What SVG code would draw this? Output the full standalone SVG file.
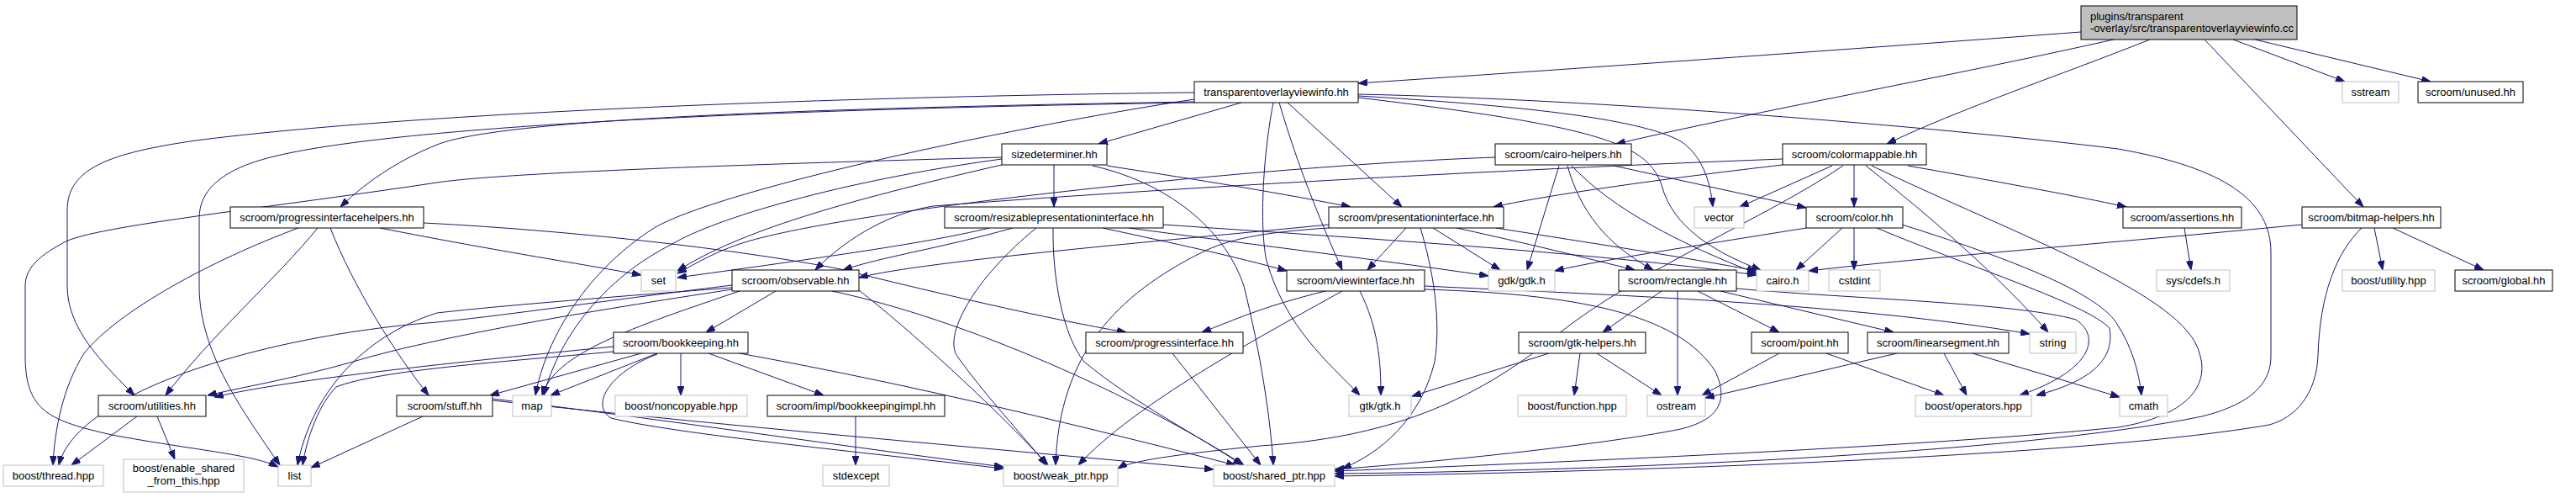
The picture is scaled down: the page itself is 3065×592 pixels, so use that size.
<svg xmlns="http://www.w3.org/2000/svg" width="3065" height="592" viewBox="0 0 3065 592">
<defs>
<style>
.n rect{fill:#fff;stroke:#000;stroke-width:1}
.x rect{fill:#fff;stroke:#bfbfbf;stroke-width:1}
.r rect{fill:#bfbfbf;stroke:#000;stroke-width:1}
text{font-family:"Liberation Sans",Arial,sans-serif;font-size:13px;fill:#000;text-anchor:middle}
#edges path{fill:none;stroke:#191970;stroke-width:1;marker-end:url(#a)}
</style>
<marker id="a" viewBox="0 0 11 8" refX="11" refY="4" markerWidth="11" markerHeight="8" markerUnits="userSpaceOnUse" orient="auto"><path d="M0,0L11,4L0,8z" fill="#191970" stroke="#191970" stroke-width="1"/></marker>
</defs>
<rect width="3065" height="592" fill="#fff"/>
<g id="edges">
<path d="M2476,38 C2250,55 1900,80 1616,99"/>
<path d="M2515,47 C2300,95 2100,130 1923,171"/>
<path d="M2558,47 C2450,90 2330,130 2245,171"/>
<path d="M2657,47 L2790,97"/>
<path d="M2683,47 L2892,97"/>
<path d="M2623,47 L2812,246"/>
<path d="M1477,122 L1307,171"/>
<path d="M1421,121 C1000,128 600,140 520,172 C480,188 440,212 405,246"/>
<path d="M1421,110 C1000,115 500,133 233,167 C130,182 80,200 80,250 L80,340 C80,390 120,430 160,470"/>
<path d="M1421,122 C900,130 480,150 330,185 C265,200 237,225 237,260 L237,340 C237,420 290,490 333,553"/>
<path d="M1421,118 C1150,160 850,230 780,270 C700,320 650,400 637,470"/>
<path d="M1532,122 L1668,246"/>
<path d="M1522,122 C1545,200 1570,260 1597,321"/>
<path d="M1515,122 C1500,200 1500,280 1507,310 C1530,390 1580,430 1618,470"/>
<path d="M1616,112 C1900,118 2300,150 2520,177 C2650,200 2702,240 2702,300 L2702,423 C2702,455 2680,480 2620,495 C2400,540 1900,560 1588,563"/>
<path d="M1616,114 C1800,125 1950,140 2000,168 C2025,185 2035,215 2038,246"/>
<path d="M1616,116 C1900,150 1960,170 1977,220 C1990,270 2040,300 2095,321"/>
<path d="M1254,196 L1254,246"/>
<path d="M1317,197 C1400,210 1500,225 1607,246"/>
<path d="M1192,187 C900,195 600,205 520,217 C300,250 100,270 73,290 C45,305 30,320 30,340 L30,423 C30,490 60,500 133,517 C230,535 300,540 331,555"/>
<path d="M1192,189 C1000,215 850,260 800,290 C720,330 665,400 647,470"/>
<path d="M1192,196 C1000,240 880,275 806,322"/>
<path d="M1300,197 C1400,220 1460,280 1480,340 C1500,420 1512,500 1515,553"/>
<path d="M1779,187 C1500,197 1000,250 880,290 C850,300 830,312 806,325"/>
<path d="M1855,197 L1817,321"/>
<path d="M1865,197 C1880,250 1910,290 1967,321"/>
<path d="M1870,197 C1920,250 2000,290 2090,325"/>
<path d="M1920,197 L2149,247"/>
<path d="M2121,196 C2000,210 1850,230 1777,246"/>
<path d="M2121,189 C1700,205 1300,230 1110,245 C1050,255 1000,290 970,321"/>
<path d="M2180,197 L2070,246"/>
<path d="M2206,196 L2206,246"/>
<path d="M2220,197 C2300,260 2380,330 2437,395"/>
<path d="M2227,197 C2400,280 2600,350 2617,420 C2630,460 2600,495 2520,508 C2300,530 1900,548 1588,560"/>
<path d="M2270,197 C2400,220 2480,235 2530,246"/>
<path d="M2193,197 C2100,260 1950,320 1850,400 C1750,480 1650,520 1500,530 C1400,540 1345,548 1330,557"/>
<path d="M355,271 C250,310 140,370 100,420 C75,460 65,510 63,553"/>
<path d="M378,271 C330,330 250,400 197,470"/>
<path d="M393,271 C420,340 470,420 510,470"/>
<path d="M452,271 C600,300 700,315 763,327"/>
<path d="M504,265 C700,275 900,300 1000,320 C1100,345 1250,380 1340,395"/>
<path d="M1177,271 C1100,290 950,310 806,330"/>
<path d="M1205,271 C1120,295 1050,305 1003,321"/>
<path d="M1233,271 C1160,330 1120,400 1140,425 C1180,480 1220,520 1245,553"/>
<path d="M1253,271 C1252,330 1265,400 1290,430 C1350,480 1430,520 1478,553"/>
<path d="M1312,271 C1400,290 1470,305 1531,322"/>
<path d="M1343,271 C1500,292 1650,310 1771,328"/>
<path d="M1384,267 C1600,282 1900,300 2090,327"/>
<path d="M1673,271 L1627,321"/>
<path d="M1690,271 C1705,320 1715,380 1707,430 C1690,500 1640,540 1597,557"/>
<path d="M1705,271 L1785,321"/>
<path d="M1733,271 C1820,290 1880,305 1945,321"/>
<path d="M1780,271 C1900,290 2000,305 2090,322"/>
<path d="M1581,267 C1400,285 1100,310 1022,330"/>
<path d="M1581,271 C1500,276 1460,285 1430,300 C1330,350 1260,420 1256,553"/>
<path d="M1618,346 C1640,390 1643,430 1643,470"/>
<path d="M1597,346 C1500,400 1350,480 1283,553"/>
<path d="M1577,346 C1500,365 1470,380 1430,395"/>
<path d="M1695,344 C1900,350 2000,380 2040,440 C2060,480 2040,500 2000,510 C1900,530 1700,550 1588,558"/>
<path d="M1695,340 C1900,350 2200,360 2415,397"/>
<path d="M923,346 L840,395"/>
<path d="M1022,345 C1080,390 1180,480 1247,553"/>
<path d="M990,346 C1150,380 1350,470 1480,553"/>
<path d="M871,344 C700,370 520,400 420,430 C350,450 280,462 247,470"/>
<path d="M871,342 C700,355 580,365 520,372 C430,400 370,470 354,553"/>
<path d="M880,346 C750,390 660,420 645,470"/>
<path d="M871,339 C700,360 600,375 520,383 C300,400 90,470 70,553"/>
<path d="M810,420 L810,470"/>
<path d="M843,420 L980,470"/>
<path d="M782,420 L655,470"/>
<path d="M763,420 L583,470"/>
<path d="M730,412 C550,430 350,450 255,472"/>
<path d="M730,418 C600,430 450,440 400,460 C380,480 365,520 360,553"/>
<path d="M880,420 C1100,460 1300,510 1470,553"/>
<path d="M782,421 C730,440 700,480 727,497 C800,515 1000,535 1194,557"/>
<path d="M503,495 L370,556"/>
<path d="M586,474 C800,500 1000,530 1194,555"/>
<path d="M586,476 C900,510 1200,535 1444,558"/>
<path d="M163,495 L85,553"/>
<path d="M187,495 L208,546"/>
<path d="M1018,495 L1018,553"/>
<path d="M1395,420 L1500,553"/>
<path d="M1843,420 L1680,471"/>
<path d="M1880,420 L1873,470"/>
<path d="M1900,420 L1977,470"/>
<path d="M1977,346 L1907,395"/>
<path d="M1996,346 L1996,470"/>
<path d="M2020,346 L2117,395"/>
<path d="M2047,346 L2253,395"/>
<path d="M2066,343 C2200,355 2400,360 2470,380 C2500,400 2490,440 2403,470"/>
<path d="M2149,271 C2000,295 1900,310 1850,322"/>
<path d="M2192,271 L2137,321"/>
<path d="M2206,271 L2206,321"/>
<path d="M2233,271 C2350,320 2480,360 2510,390 C2515,420 2500,450 2423,470"/>
<path d="M2263,267 C2400,310 2500,350 2520,387 C2535,410 2545,440 2548,470"/>
<path d="M2739,267 C2500,290 2300,305 2152,322"/>
<path d="M2825,271 L2835,321"/>
<path d="M2847,271 L2955,321"/>
<path d="M2810,271 C2780,300 2760,350 2758,423 C2756,470 2730,497 2700,505 C2500,540 2000,560 1588,566"/>
<path d="M2599,271 L2607,321"/>
<path d="M2117,420 L2025,470"/>
<path d="M2173,420 L2313,470"/>
<path d="M2257,420 L2029,473"/>
<path d="M2313,420 L2340,470"/>
<path d="M2347,420 L2522,472"/>
</g>
<g id="root" class="r"><rect x="2476" y="7" width="257" height="40"/><text x="2487" y="24" style="text-anchor:start">plugins/transparent</text><text x="2487" y="38" style="text-anchor:start">-overlay/src/transparentoverlayviewinfo.cc</text></g>
<g id="tov" class="n"><rect x="1421" y="97" width="195" height="25"/><text x="1518.5" y="114">transparentoverlayviewinfo.hh</text></g>
<g id="sstream" class="x"><rect x="2787" y="97" width="67" height="25"/><text x="2820.5" y="114">sstream</text></g>
<g id="unused" class="n"><rect x="2877" y="97" width="125" height="25"/><text x="2939.5" y="114">scroom/unused.hh</text></g>
<g id="sizedeterminer" class="n"><rect x="1192" y="171" width="125" height="25"/><text x="1254.5" y="188">sizedeterminer.hh</text></g>
<g id="cairohelpers" class="n"><rect x="1779" y="171" width="162" height="25"/><text x="1860" y="188">scroom/cairo-helpers.hh</text></g>
<g id="colormappable" class="n"><rect x="2121" y="171" width="171" height="25"/><text x="2206.5" y="188">scroom/colormappable.hh</text></g>
<g id="pih" class="n"><rect x="274" y="246" width="230" height="25"/><text x="389" y="263">scroom/progressinterfacehelpers.hh</text></g>
<g id="rpi" class="n"><rect x="1124" y="246" width="260" height="25"/><text x="1254" y="263">scroom/resizablepresentationinterface.hh</text></g>
<g id="pi" class="n"><rect x="1581" y="246" width="208" height="25"/><text x="1685" y="263">scroom/presentationinterface.hh</text></g>
<g id="vector" class="x"><rect x="2016" y="246" width="59" height="25"/><text x="2045.5" y="263">vector</text></g>
<g id="color" class="n"><rect x="2149" y="246" width="115" height="25"/><text x="2206.5" y="263">scroom/color.hh</text></g>
<g id="assertions" class="n"><rect x="2526" y="246" width="141" height="25"/><text x="2596.5" y="263">scroom/assertions.hh</text></g>
<g id="bitmaphelpers" class="n"><rect x="2739" y="246" width="165" height="25"/><text x="2821.5" y="263">scroom/bitmap-helpers.hh</text></g>
<g id="set" class="x"><rect x="763" y="321" width="41" height="25"/><text x="783.5" y="338">set</text></g>
<g id="observable" class="n"><rect x="871" y="321" width="151" height="25"/><text x="946.5" y="338">scroom/observable.hh</text></g>
<g id="viewinterface" class="n"><rect x="1531" y="321" width="164" height="25"/><text x="1613" y="338">scroom/viewinterface.hh</text></g>
<g id="gdk" class="x"><rect x="1771" y="321" width="79" height="25"/><text x="1810.5" y="338">gdk/gdk.h</text></g>
<g id="rectangle" class="n"><rect x="1926" y="321" width="140" height="25"/><text x="1996" y="338">scroom/rectangle.hh</text></g>
<g id="cairo" class="x"><rect x="2090" y="321" width="62" height="25"/><text x="2121" y="338">cairo.h</text></g>
<g id="cstdint" class="x"><rect x="2176" y="321" width="61" height="25"/><text x="2206.5" y="338">cstdint</text></g>
<g id="cdefs" class="x"><rect x="2566" y="321" width="87" height="25"/><text x="2609.5" y="338">sys/cdefs.h</text></g>
<g id="utility" class="x"><rect x="2787" y="321" width="110" height="25"/><text x="2842" y="338">boost/utility.hpp</text></g>
<g id="global" class="n"><rect x="2921" y="321" width="116" height="25"/><text x="2979" y="338">scroom/global.hh</text></g>
<g id="bookkeeping" class="n"><rect x="730" y="395" width="160" height="25"/><text x="810" y="412">scroom/bookkeeping.hh</text></g>
<g id="progressinterface" class="n"><rect x="1292" y="395" width="187" height="25"/><text x="1385.5" y="412">scroom/progressinterface.hh</text></g>
<g id="gtkhelpers" class="n"><rect x="1807" y="395" width="151" height="25"/><text x="1882.5" y="412">scroom/gtk-helpers.hh</text></g>
<g id="point" class="n"><rect x="2084" y="395" width="115" height="25"/><text x="2141.5" y="412">scroom/point.hh</text></g>
<g id="linearsegment" class="n"><rect x="2222" y="395" width="168" height="25"/><text x="2306" y="412">scroom/linearsegment.hh</text></g>
<g id="string" class="x"><rect x="2415" y="395" width="55" height="25"/><text x="2442.5" y="412">string</text></g>
<g id="utilities" class="n"><rect x="117" y="470" width="128" height="25"/><text x="181" y="487">scroom/utilities.hh</text></g>
<g id="stuff" class="n"><rect x="472" y="470" width="114" height="25"/><text x="529" y="487">scroom/stuff.hh</text></g>
<g id="map" class="x"><rect x="610" y="470" width="46" height="25"/><text x="633" y="487">map</text></g>
<g id="noncopyable" class="x"><rect x="732" y="470" width="157" height="25"/><text x="810.5" y="487">boost/noncopyable.hpp</text></g>
<g id="bookkeepingimpl" class="n"><rect x="913" y="470" width="211" height="25"/><text x="1018.5" y="487">scroom/impl/bookkeepingimpl.hh</text></g>
<g id="gtk" class="x"><rect x="1605" y="470" width="74" height="25"/><text x="1642" y="487">gtk/gtk.h</text></g>
<g id="function" class="x"><rect x="1806" y="470" width="129" height="25"/><text x="1870.5" y="487">boost/function.hpp</text></g>
<g id="ostream" class="x"><rect x="1960" y="470" width="69" height="25"/><text x="1994.5" y="487">ostream</text></g>
<g id="operators" class="x"><rect x="2279" y="470" width="138" height="25"/><text x="2348" y="487">boost/operators.hpp</text></g>
<g id="cmath" class="x"><rect x="2522" y="470" width="57" height="25"/><text x="2550.5" y="487">cmath</text></g>
<g id="thread" class="x"><rect x="4" y="553" width="119" height="25"/><text x="63.5" y="570">boost/thread.hpp</text></g>
<g id="enableshared" class="x"><rect x="147" y="546" width="143" height="39"/><text x="218.5" y="561">boost/enable_shared</text><text x="218.5" y="576">_from_this.hpp</text></g>
<g id="list" class="x"><rect x="331" y="553" width="39" height="25"/><text x="350.5" y="570">list</text></g>
<g id="stdexcept" class="x"><rect x="979" y="553" width="79" height="25"/><text x="1018.5" y="570">stdexcept</text></g>
<g id="weakptr" class="x"><rect x="1194" y="553" width="136" height="25"/><text x="1262" y="570">boost/weak_ptr.hpp</text></g>
<g id="sharedptr" class="x"><rect x="1444" y="553" width="144" height="25"/><text x="1516" y="570">boost/shared_ptr.hpp</text></g>
</svg>
